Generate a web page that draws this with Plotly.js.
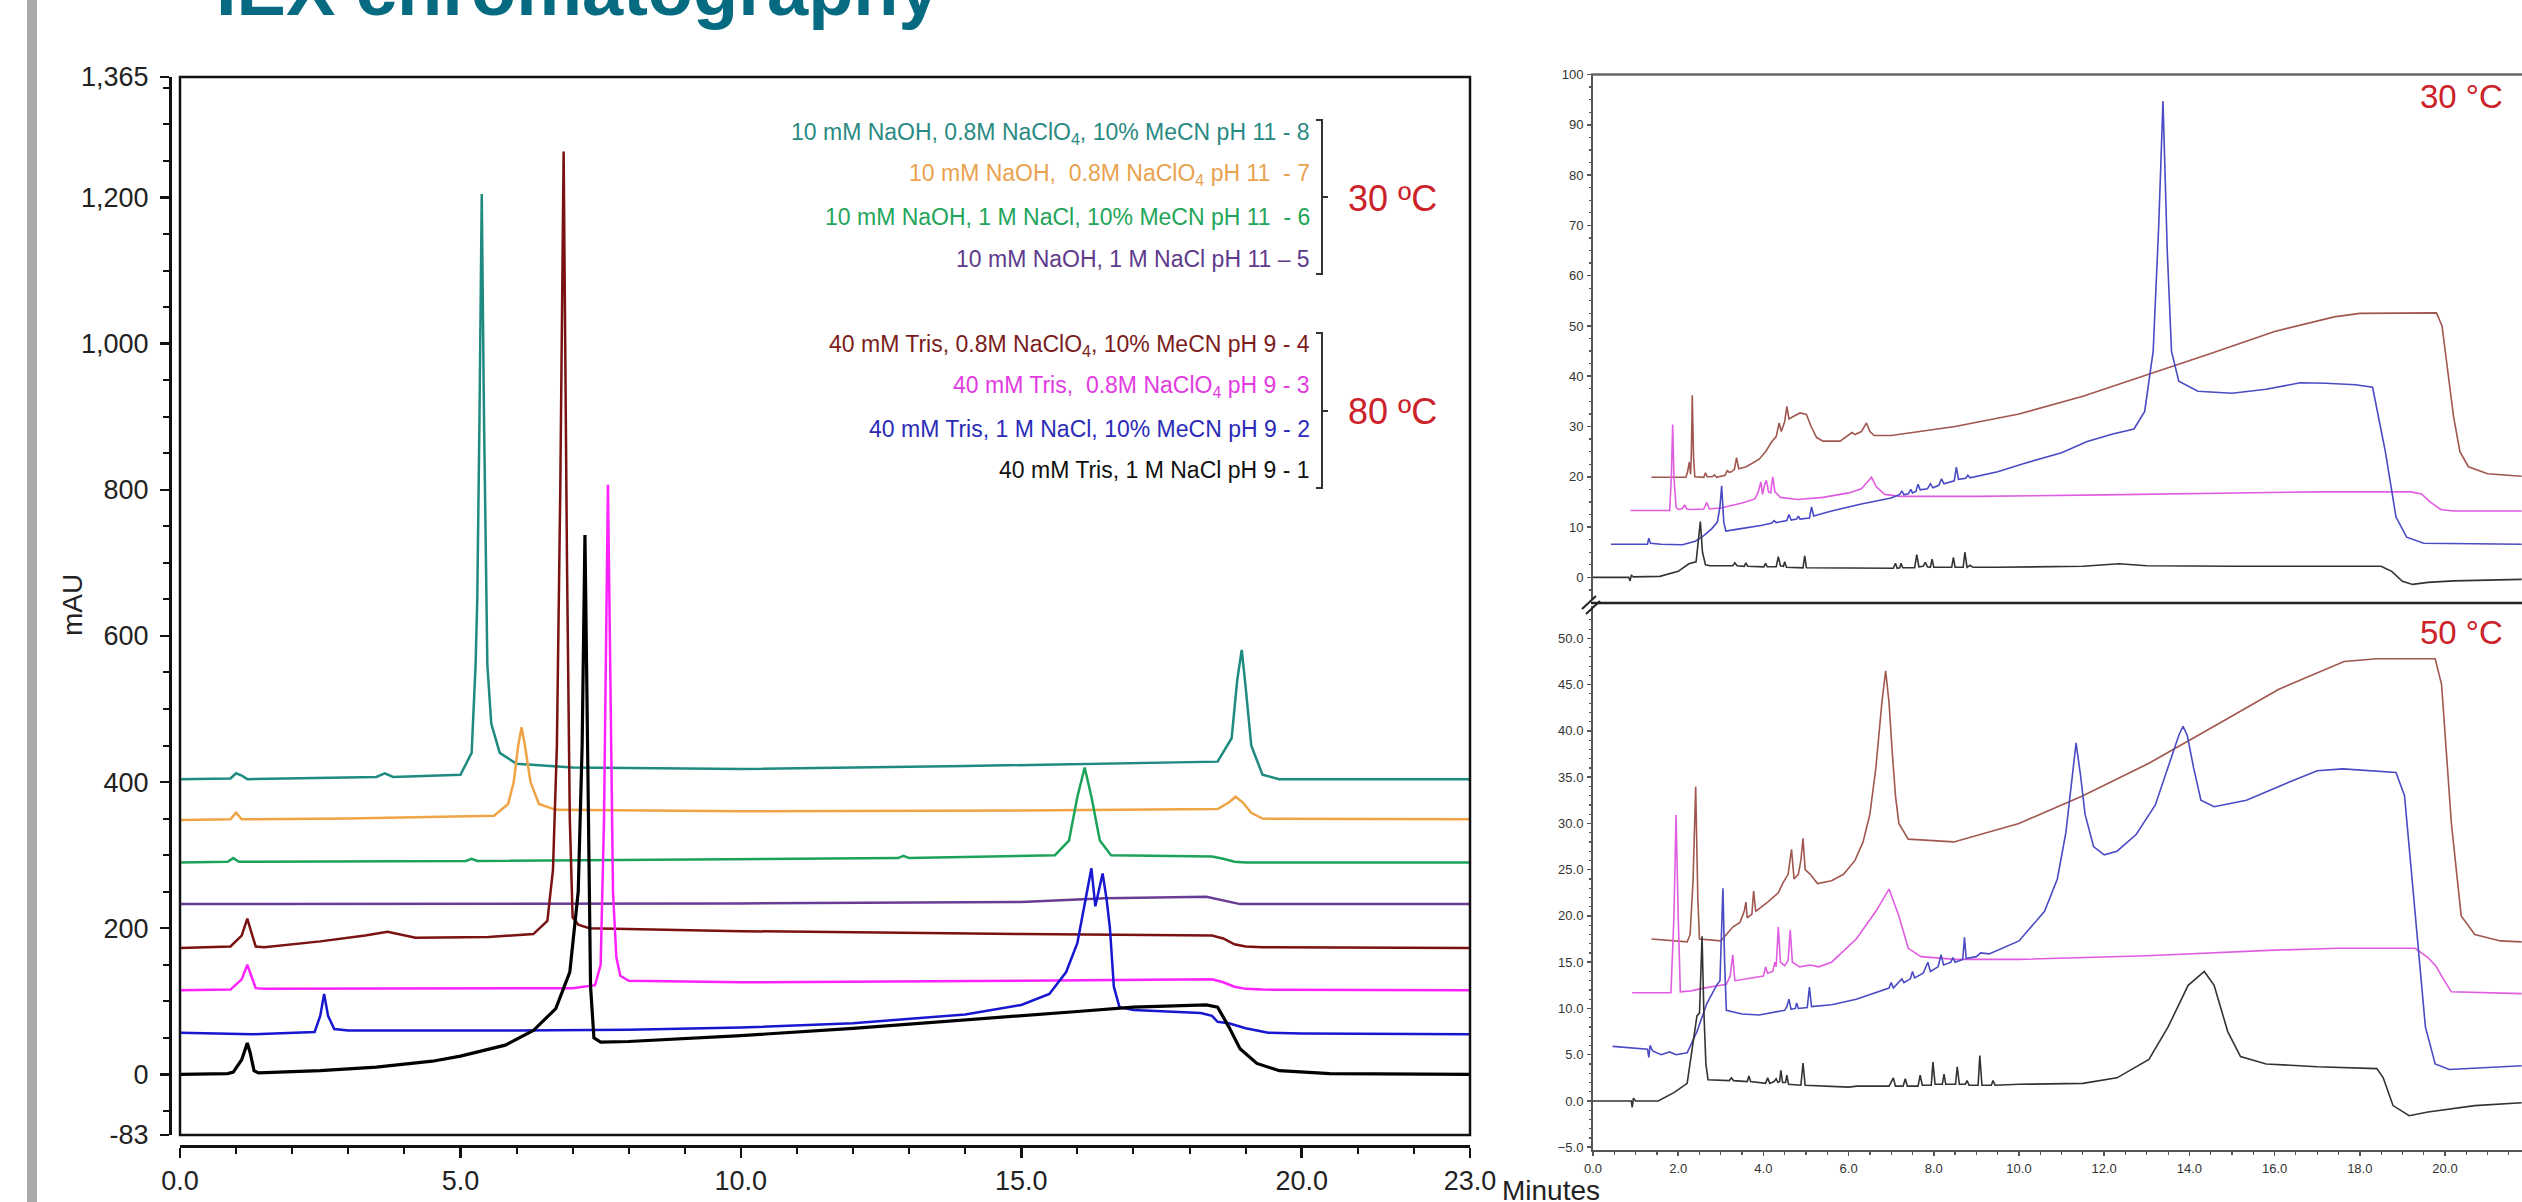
<!DOCTYPE html>
<html><head><meta charset="utf-8">
<script src="https://cdn.plot.ly/plotly-3.0.1.min.js"></script>
<style>html,body{margin:0;padding:0;background:#fff;overflow:hidden}#chart{width:2522px;height:1202px}</style>
</head><body><div id="chart"></div>
<script>
// ---------------- DATA ----------------
// Left chart: time (min) vs mAU, one array of [t, mAU] points per run
const RUN8 = [[0,404],[0.9,405],[1.0,412],[1.1,409],[1.2,404],[3.5,407],[3.65,412],[3.8,407],[5.0,410],[5.2,440],[5.27,560],[5.3,650],[5.34,900],[5.38,1205],[5.42,900],[5.48,560],[5.55,480],[5.7,440],[6.0,425],[7,420],[10,418],[14,422],[18.5,428],[18.75,460],[18.85,540],[18.93,581],[19.0,530],[19.1,450],[19.3,410],[19.6,404],[23,404]];
const RUN7 = [[0,348],[0.9,349],[1.0,358],[1.1,349],[3,350],[5.6,354],[5.85,370],[5.95,400],[6.03,450],[6.09,475],[6.15,450],[6.25,400],[6.4,370],[6.7,362],[10,360],[15,361],[18.5,363],[18.7,372],[18.82,380],[18.95,372],[19.1,358],[19.3,350],[23,349]];
const RUN6 = [[0,290],[0.85,291],[0.95,296],[1.05,291],[5.1,292],[5.2,295],[5.3,292],[12.8,296],[12.9,299],[13.0,296],[15.6,300],[15.85,320],[16.0,380],[16.13,420],[16.25,380],[16.4,320],[16.6,300],[18.4,298],[18.6,295],[18.8,291],[19.0,290],[23,290]];
const RUN5 = [[0,233],[10,234],[15,236],[16.5,241],[18.3,243],[18.6,238],[18.9,233],[23,233]];
const RUN4 = [[0,173],[0.9,175],[1.1,190],[1.2,213],[1.27,195],[1.35,175],[1.5,174],[2.5,182],[3.3,190],[3.7,195],[4.2,187],[5.5,188],[6.3,192],[6.55,210],[6.65,280],[6.72,450],[6.78,800],[6.84,1263],[6.9,700],[6.95,350],[7.0,215],[7.1,205],[7.3,200],[10,196],[15,192],[18.4,190],[18.6,186],[18.8,178],[19.0,175],[19.3,174],[23,173]];
const RUN3 = [[0,115],[0.9,116],[1.1,130],[1.2,150],[1.27,135],[1.35,118],[1.5,117],[7.0,118],[7.4,122],[7.5,150],[7.56,350],[7.63,807],[7.68,500],[7.72,250],[7.78,160],[7.85,135],[8.0,128],[10,126],[15,128],[18.4,130],[18.6,126],[18.8,120],[19.0,117],[19.3,116],[23,115]];
const RUN2 = [[0,57],[1.0,56],[1.3,55],[2.4,58],[2.5,80],[2.57,110],[2.64,80],[2.75,62],[3.0,60],[6,60],[8,61],[10,64],[12,70],[14,82],[15,95],[15.5,110],[15.8,140],[16.0,180],[16.15,240],[16.25,282],[16.32,230],[16.38,250],[16.45,275],[16.52,240],[16.58,200],[16.65,120],[16.75,92],[17.0,88],[18.2,84],[18.4,80],[18.5,72],[18.7,70],[19.0,63],[19.4,57],[20,56],[23,55]];
const RUN1 = [[0,0],[0.85,1],[0.95,3],[1.1,20],[1.2,43],[1.25,30],[1.32,5],[1.4,2],[2.5,5],[3.5,10],[4.5,18],[5.0,25],[5.8,40],[6.3,60],[6.7,90],[6.95,140],[7.1,250],[7.17,450],[7.22,738],[7.27,450],[7.32,120],[7.38,50],[7.5,44],[8,45],[10,53],[12,63],[14,74],[16,86],[17,92],[18.3,95],[18.5,92],[18.7,65],[18.9,35],[19.2,15],[19.6,5],[20.5,1],[23,0]];

const LEFT_RUNS   = [RUN8, RUN7, RUN6, RUN5, RUN4, RUN3, RUN2, RUN1];
const LEFT_COLORS = ['#1f8a80','#efa445','#1ca35a','#6a3b95','#7a1212','#ff22ff','#1717d0','#000000'];
const LEFT_WIDTHS = [2.5,2.5,2.5,2.5,2.5,2.5,2.5,3.2];

const LEGEND_TEXT = [
  '10 mM NaOH, 0.8M NaClO<sub>4</sub>, 10% MeCN pH 11 - 8',
  '10 mM NaOH,  0.8M NaClO<sub>4</sub> pH 11  - 7',
  '10 mM NaOH, 1 M NaCl, 10% MeCN pH 11  - 6',
  '10 mM NaOH, 1 M NaCl pH 11 \u2013 5',
  '40 mM Tris, 0.8M NaClO<sub>4</sub>, 10% MeCN pH 9 - 4',
  '40 mM Tris,  0.8M NaClO<sub>4</sub> pH 9 - 3',
  '40 mM Tris, 1 M NaCl, 10% MeCN pH 9 - 2',
  '40 mM Tris, 1 M NaCl pH 9 - 1'];
const LEGEND_COLORS = ['#2a8a82','#e9a24f','#22a55a','#5e3a8c','#7b1c1c','#e23be2','#2b2bb8','#111111'];
const GROUP_LABELS = ['30 \u00baC','80 \u00baC'];

const LY_TICKS  = [-83,0,200,400,600,800,1000,1200,1365];
const LY_LABELS = ['-83','0','200','400','600','800','1,000','1,200','1,365'];
const LX_TICKS  = [0,5,10,15,20,23];
const LX_LABELS = ['0.0','5.0','10.0','15.0','20.0','23.0'];

// Right chart, 30 °C panel
const T_BLACK = [[0,0],[0.84,0],[0.87,-0.7],[0.9,0.4],[0.95,0.1],[1.57,0.2],[2.0,1.2],[2.25,2.7],[2.42,3.1],[2.47,7],[2.52,11.1],[2.57,5],[2.64,2.5],[2.75,2.3],[3.28,2.3],[3.33,2.9],[3.38,2.3],[3.55,2.2],[3.59,2.9],[3.63,2.2],[4.01,2.1],[4.05,2.8],[4.09,2.1],[4.3,2.1],[4.35,4.1],[4.4,2.3],[4.47,2.2],[4.5,3.1],[4.54,2.0],[4.93,1.9],[4.97,4.3],[5.01,1.9],[6.0,1.8],[7.05,1.8],[7.1,2.8],[7.14,1.8],[7.2,1.9],[7.23,2.8],[7.27,1.9],[7.55,1.9],[7.6,4.5],[7.65,2.1],[7.75,2.2],[7.8,3.0],[7.85,2.1],[7.92,2.0],[7.96,3.6],[8.0,2.0],[8.42,2.0],[8.46,4.0],[8.5,2.0],[8.69,2.0],[8.73,5.0],[8.78,2.0],[8.85,2.4],[8.92,2.0],[9.5,2.0],[11.5,2.2],[12.35,2.7],[13.0,2.3],[15.0,2.2],[18.5,2.2],[18.75,1.2],[19.0,-0.8],[19.24,-1.4],[19.6,-1.0],[20.2,-0.7],[21.8,-0.4]];
const T_BLUE = [[0.42,6.6],[1.28,6.6],[1.31,7.8],[1.35,6.8],[1.6,6.6],[2.1,6.5],[2.4,7.2],[2.6,8.3],[2.79,9.7],[2.92,11],[2.98,14],[3.02,18.2],[3.07,11],[3.12,9.2],[3.4,9.6],[3.94,10.3],[4.2,10.8],[4.25,11.3],[4.3,10.9],[4.55,11.3],[4.6,12.5],[4.65,11.4],[4.78,11.6],[4.82,12.2],[4.86,11.6],[5.08,11.8],[5.13,14],[5.18,12.2],[5.6,13.2],[6.3,14.6],[7.0,15.8],[7.2,16.5],[7.25,17.2],[7.3,16.4],[7.4,16.6],[7.46,17.5],[7.5,16.8],[7.58,17.1],[7.63,18.5],[7.68,17.4],[7.85,17.6],[7.92,18.6],[7.98,17.8],[8.12,18.3],[8.18,19.6],[8.24,18.6],[8.48,19.2],[8.53,21.9],[8.58,19.5],[8.75,19.7],[8.8,20.3],[8.85,19.8],[9.5,21.0],[10.1,22.6],[11.0,24.8],[11.6,27.0],[12.2,28.5],[12.7,29.5],[12.95,33],[13.15,45],[13.28,70],[13.38,94.7],[13.48,65],[13.58,45],[13.75,39],[14.2,37],[15.0,36.6],[15.8,37.4],[16.6,38.7],[17.2,38.6],[17.9,38.3],[18.3,37.8],[18.6,25],[18.85,12],[19.1,8],[19.5,6.8],[21.8,6.6]];
const T_MAGENTA = [[0.88,13.3],[1.8,13.3],[1.84,20],[1.87,30.4],[1.9,20],[1.95,14],[2.0,13.5],[2.1,13.7],[2.15,14.4],[2.2,13.6],[2.3,13.5],[2.6,13.6],[2.67,14.9],[2.73,13.6],[3.0,13.8],[3.5,14.8],[3.8,15.6],[3.88,17],[3.94,19.0],[3.98,16.5],[4.03,18.5],[4.07,19.3],[4.12,17],[4.17,16.8],[4.22,20],[4.27,17],[4.4,15.9],[4.8,15.5],[5.4,15.9],[6.0,16.8],[6.3,17.6],[6.45,19],[6.54,19.9],[6.65,18],[6.85,16.5],[7.2,16.1],[9.0,16.1],[12.0,16.4],[15.0,16.8],[17.0,17.0],[19.2,17.0],[19.45,16.6],[19.65,15.0],[19.9,13.5],[20.2,13.2],[21.8,13.2]];
const T_BROWN = [[1.37,19.9],[2.18,19.9],[2.22,21],[2.26,22.9],[2.29,20.5],[2.31,25],[2.33,36.2],[2.36,24],[2.39,20],[2.6,19.9],[2.64,20.8],[2.68,20],[2.8,20.0],[2.85,20.4],[2.9,19.9],[3.1,20.3],[3.15,21.2],[3.2,20.9],[3.25,21],[3.32,21.5],[3.37,23.8],[3.42,21.6],[3.6,22.0],[3.9,23.5],[4.05,25],[4.2,27],[4.3,28],[4.37,30.7],[4.42,29],[4.5,31],[4.55,34],[4.6,31.5],[4.7,32],[4.86,32.7],[5.01,32.4],[5.12,30],[5.25,27.8],[5.4,27.1],[5.8,27.1],[6.0,28.3],[6.08,28.8],[6.15,28.4],[6.3,29],[6.42,30.7],[6.5,29],[6.6,28.2],[7.0,28.2],[8.5,30],[10.0,32.5],[11.5,36],[13.0,40.2],[14.5,44.5],[16.0,48.9],[17.4,51.8],[18.0,52.5],[19.8,52.6],[19.93,50],[20.05,42],[20.2,32],[20.35,25],[20.55,22],[21.0,20.6],[21.8,20.1]];

// Right chart, 50 °C panel
const B_BLACK = [[0,0],[0.9,0],[0.92,-0.7],[0.95,0.3],[1.0,0],[1.53,0],[1.9,0.9],[2.21,1.9],[2.34,6],[2.44,9.2],[2.5,9.5],[2.56,17.8],[2.6,10],[2.65,4],[2.7,2.3],[3.2,2.2],[3.25,2.5],[3.3,2.2],[3.62,2.1],[3.66,2.7],[3.7,2.1],[4.05,1.9],[4.1,2.5],[4.15,1.9],[4.25,2.1],[4.3,2.4],[4.34,2.0],[4.38,2.1],[4.41,3.3],[4.45,2.0],[4.52,2.0],[4.55,2.8],[4.59,1.8],[4.88,1.7],[4.93,4.1],[4.98,1.7],[6.0,1.5],[6.2,1.6],[6.95,1.6],[7.05,2.5],[7.1,1.6],[7.28,1.6],[7.33,2.4],[7.38,1.6],[7.63,1.6],[7.68,2.8],[7.73,1.7],[7.94,1.7],[7.98,4.2],[8.03,1.8],[8.2,1.8],[8.24,2.9],[8.28,1.8],[8.51,1.8],[8.55,3.7],[8.6,1.8],[8.74,1.8],[8.78,2.2],[8.83,1.7],[9.04,1.7],[9.08,4.9],[9.13,1.7],[9.35,1.7],[9.39,2.2],[9.44,1.7],[10.0,1.8],[11.5,1.9],[12.3,2.5],[13.05,4.5],[13.5,8],[13.97,12.5],[14.35,14],[14.58,12.5],[14.9,7.5],[15.2,4.8],[15.8,4.0],[17.0,3.7],[18.4,3.5],[18.55,2.5],[18.78,-0.5],[19.16,-1.6],[19.6,-1.2],[20.7,-0.5],[21.8,-0.2]];
const B_BLUE = [[0.46,5.9],[1.28,5.6],[1.31,4.7],[1.34,6.0],[1.4,5.4],[1.6,5.0],[1.8,5.3],[1.95,5.0],[2.21,5.2],[2.44,7.5],[2.67,10.5],[2.9,12.5],[2.98,13],[3.01,18],[3.05,23],[3.09,15],[3.13,9.8],[3.5,9.4],[3.9,9.3],[4.5,9.8],[4.55,10.2],[4.6,11],[4.65,9.9],[4.75,10],[4.78,10.6],[4.82,10],[5.03,10.1],[5.08,12.3],[5.13,10.2],[5.6,10.4],[6.18,11],[6.95,12.2],[7.0,12.8],[7.05,12.2],[7.25,13.2],[7.3,12.8],[7.45,13.2],[7.5,14],[7.55,13.3],[7.75,13.8],[7.86,15],[7.92,14],[8.1,14.5],[8.17,15.8],[8.23,14.7],[8.4,15],[8.45,15.5],[8.5,15],[8.68,15.3],[8.72,17.7],[8.76,15.4],[9.0,15.6],[9.1,16],[9.3,15.9],[10.0,17.3],[10.6,20.5],[10.9,24],[11.1,29],[11.25,35],[11.34,38.7],[11.45,35],[11.55,31],[11.75,27.5],[12.0,26.6],[12.3,27],[12.75,28.8],[13.2,32],[13.5,36],[13.75,39.5],[13.85,40.5],[13.95,39.5],[14.1,36],[14.27,32.5],[14.58,31.8],[15.34,32.5],[16.1,34],[17.0,35.7],[17.6,35.9],[18.85,35.5],[19.05,33],[19.3,20],[19.54,8],[19.77,4],[20.1,3.4],[21.8,3.8]];
const B_MAGENTA = [[0.92,11.7],[1.83,11.7],[1.9,20],[1.95,30.9],[2.0,20],[2.05,11.8],[2.3,11.9],[2.6,12.2],[3.13,12.6],[3.22,13.5],[3.28,15.8],[3.33,13],[4.0,13.5],[4.05,14.5],[4.1,13.8],[4.22,14],[4.27,15],[4.3,14.5],[4.35,18.8],[4.4,15],[4.5,14.6],[4.58,15.2],[4.63,18.5],[4.68,15],[4.85,14.5],[5.1,14.7],[5.3,14.5],[5.6,15.0],[6.18,17.5],[6.64,20.5],[6.95,22.9],[7.18,20],[7.4,16.5],[7.7,15.6],[8.5,15.3],[10.0,15.3],[13.0,15.7],[16.0,16.3],[17.5,16.5],[19.3,16.5],[19.6,15.5],[19.8,14.5],[19.92,13.5],[20.15,11.8],[21.8,11.6]];
const B_BROWN = [[1.37,17.5],[2.21,17.2],[2.28,18],[2.35,24],[2.41,34],[2.46,22],[2.5,17.5],[3.0,17.3],[3.13,18],[3.28,18.8],[3.45,19.3],[3.55,20.5],[3.59,21.5],[3.62,19.8],[3.73,20.2],[3.77,22.7],[3.82,20.5],[4.1,21.5],[4.35,22.5],[4.45,23.5],[4.58,24.5],[4.66,27.2],[4.72,24],[4.82,24.5],[4.88,26],[4.93,28.4],[4.98,25],[5.1,24.5],[5.27,23.5],[5.6,23.8],[5.88,24.5],[6.15,26],[6.34,28],[6.5,31],[6.64,36],[6.78,43],[6.87,46.5],[6.95,43],[7.02,38],[7.1,33],[7.18,30],[7.4,28.3],[8.47,28.0],[10.0,30],[11.5,33],[13.05,36.5],[14.58,40.5],[16.1,44.5],[17.63,47.5],[18.4,47.8],[19.77,47.8],[19.92,45],[20.15,30],[20.38,20],[20.7,18],[21.3,17.3],[21.8,17.2]];

const RIGHT_TOP    = [T_BROWN, T_MAGENTA, T_BLUE, T_BLACK];
const RIGHT_BOTTOM = [B_BROWN, B_MAGENTA, B_BLUE, B_BLACK];
const RIGHT_COLORS = ['#a0574f','#e05ce0','#4a4ac4','#333333'];
const PANEL_LABELS = ['30 \u00b0C','50 \u00b0C'];

// ---------------- BUILD ----------------
const W = 2522, H = 1202;
const px = v => v / W, py = v => 1 - v / H;
const FONT = 'Liberation Sans, Arial, Helvetica, sans-serif';
const RED = '#cc2229';

const traces = [];
LEFT_RUNS.forEach((run, i) => traces.push({
  type: 'scatter', mode: 'lines', xaxis: 'x', yaxis: 'y', hoverinfo: 'skip',
  x: run.map(p => p[0]), y: run.map(p => p[1]),
  line: {color: LEFT_COLORS[i], width: LEFT_WIDTHS[i]}
}));
RIGHT_TOP.forEach((run, i) => traces.push({
  type: 'scatter', mode: 'lines', xaxis: 'x2', yaxis: 'y2', hoverinfo: 'skip',
  x: run.map(p => p[0]), y: run.map(p => p[1]),
  line: {color: RIGHT_COLORS[i], width: 1.6}
}));
RIGHT_BOTTOM.forEach((run, i) => traces.push({
  type: 'scatter', mode: 'lines', xaxis: 'x3', yaxis: 'y3', hoverinfo: 'skip',
  x: run.map(p => p[0]), y: run.map(p => p[1]),
  line: {color: RIGHT_COLORS[i], width: 1.6}
}));

const rightMax = (W - 1593) / 42.6;
const smallTick = {size: 13, color: '#333', family: FONT};

const layout = {
  width: W, height: H, margin: {l: 0, r: 0, t: 0, b: 0},
  paper_bgcolor: '#fff', plot_bgcolor: 'rgba(0,0,0,0)', showlegend: false,
  font: {family: FONT, color: '#222'},
  xaxis: {
    domain: [px(180), px(1470)], range: [0, 23], anchor: 'free', position: py(1146),
    showline: true, linecolor: '#111', linewidth: 2.5, showgrid: false, zeroline: false,
    ticks: 'outside', ticklen: 10, tickwidth: 2.5, tickcolor: '#111',
    tickmode: 'array', tickvals: LX_TICKS, ticktext: LX_LABELS, ticklabelstandoff: 0,
    tickfont: {size: 27, color: '#222', family: FONT},
    minor: {tickmode: 'linear', tick0: 0, dtick: 1, ticks: 'outside', ticklen: 6, tickwidth: 2, tickcolor: '#111'}
  },
  yaxis: {
    domain: [py(1135), py(77)], range: [-83, 1365], anchor: 'free', position: px(170),
    showline: true, linecolor: '#111', linewidth: 2.5, showgrid: false, zeroline: false,
    ticks: 'outside', ticklen: 9, tickwidth: 2.5, tickcolor: '#111',
    tickmode: 'array', tickvals: LY_TICKS, ticktext: LY_LABELS, ticklabelstandoff: 6,
    tickfont: {size: 27, color: '#222', family: FONT},
    minor: {tickmode: 'linear', tick0: 0, dtick: 50, ticks: 'outside', ticklen: 6, tickwidth: 2, tickcolor: '#111'}
  },
  xaxis2: {
    domain: [px(1593), 1], range: [0, rightMax], anchor: 'y2',
    showline: false, showticklabels: false, ticks: '', showgrid: false, zeroline: false
  },
  yaxis2: {
    domain: [py(600), py(74.5)], range: [-4.5, 100], anchor: 'x2',
    showline: true, linecolor: '#555', linewidth: 2, showgrid: false, zeroline: false,
    ticks: 'outside', ticklen: 4, tickwidth: 1.5, tickcolor: '#555',
    tickmode: 'linear', tick0: 0, dtick: 10, tickfont: smallTick, ticklabelstandoff: 1,
    minor: {tickmode: 'linear', tick0: 0, dtick: 2.5, ticks: 'outside', ticklen: 2.5, tickwidth: 1.2, tickcolor: '#555'}
  },
  xaxis3: {
    domain: [px(1593), 1], range: [0, rightMax], anchor: 'y3',
    showline: true, linecolor: '#555', linewidth: 2, showgrid: false, zeroline: false,
    ticks: 'outside', ticklen: 4, tickwidth: 1.5, tickcolor: '#555',
    tickmode: 'linear', tick0: 0, dtick: 2, tickformat: '.1f', tickfont: smallTick, ticklabelstandoff: 1,
    minor: {tickmode: 'linear', tick0: 0, dtick: 0.5, ticks: 'outside', ticklen: 2.5, tickwidth: 1.2, tickcolor: '#555'}
  },
  yaxis3: {
    domain: [py(1150), py(606)], range: [-5.3, 53.5], anchor: 'x3',
    showline: true, linecolor: '#555', linewidth: 2, showgrid: false, zeroline: false,
    ticks: 'outside', ticklen: 4, tickwidth: 1.5, tickcolor: '#555',
    tickmode: 'linear', tick0: 0, dtick: 5, tickformat: '.1f', tickfont: smallTick, ticklabelstandoff: 1,
    minor: {tickmode: 'linear', tick0: 0, dtick: 1, ticks: 'outside', ticklen: 2.5, tickwidth: 1.2, tickcolor: '#555'}
  },
  shapes: [],
  annotations: []
};

const S = layout.shapes, A = layout.annotations;
// left grey bar
S.push({type: 'rect', xref: 'paper', yref: 'paper', x0: px(27), x1: px(37), y0: 0, y1: 1, fillcolor: '#a9a9a9', line: {width: 0}, layer: 'below'});
// left plot frame
S.push({type: 'rect', xref: 'paper', yref: 'paper', x0: px(180), x1: px(1470), y0: py(1135), y1: py(77), line: {color: '#111', width: 2.5}});
// right panel top border and break line
S.push({type: 'line', xref: 'paper', yref: 'paper', x0: px(1591), x1: 1, y0: py(74.5), y1: py(74.5), line: {color: '#666', width: 2.5}});
S.push({type: 'line', xref: 'paper', yref: 'paper', x0: px(1591), x1: 1, y0: py(603), y1: py(603), line: {color: '#222', width: 2.5}});
// axis break marks
S.push({type: 'line', xref: 'paper', yref: 'paper', x0: px(1582), x1: px(1596), y0: py(609), y1: py(596), line: {color: '#222', width: 2}});
S.push({type: 'line', xref: 'paper', yref: 'paper', x0: px(1586), x1: px(1600), y0: py(614), y1: py(601), line: {color: '#222', width: 2}});
// brackets
function bracket(top, bot, mid) {
  const xa = px(1316), xb = px(1322), xc = px(1328);
  return {type: 'path', xref: 'paper', yref: 'paper', line: {color: '#333', width: 2},
    path: `M ${xa} ${py(top)} L ${xb} ${py(top)} L ${xb} ${py(bot)} L ${xa} ${py(bot)} M ${xb} ${py(mid)} L ${xc} ${py(mid)}`};
}
S.push(bracket(120, 274, 197));
S.push(bracket(333, 488, 411));

// title
A.push({xref: 'paper', yref: 'paper', x: px(214), y: py(33), xanchor: 'left', yanchor: 'bottom', showarrow: false,
  text: '<b>IEX chromatography</b>', font: {size: 74, color: '#066b80', family: FONT}});
// y axis label
A.push({xref: 'paper', yref: 'paper', x: px(72), y: py(605), xanchor: 'center', yanchor: 'middle', showarrow: false,
  text: 'mAU', textangle: -90, font: {size: 28, color: '#222', family: FONT}});
// legend lines
const LEG_Y = [133, 175, 217, 259, 346, 387, 429, 470];
LEGEND_TEXT.forEach((t, i) => A.push({xref: 'paper', yref: 'paper', x: px(1312), y: py(LEG_Y[i]), xanchor: 'right', yanchor: 'middle',
  showarrow: false, text: t, font: {size: 23, color: LEGEND_COLORS[i], family: FONT}}));
A.push({xref: 'paper', yref: 'paper', x: px(1346), y: py(199), xanchor: 'left', yanchor: 'middle', showarrow: false,
  text: GROUP_LABELS[0], font: {size: 36, color: RED, family: FONT}});
A.push({xref: 'paper', yref: 'paper', x: px(1346), y: py(412), xanchor: 'left', yanchor: 'middle', showarrow: false,
  text: GROUP_LABELS[1], font: {size: 36, color: RED, family: FONT}});
// right panel labels
A.push({xref: 'paper', yref: 'paper', x: px(2418), y: py(96), xanchor: 'left', yanchor: 'middle', showarrow: false,
  text: PANEL_LABELS[0], font: {size: 33, color: RED, family: FONT}});
A.push({xref: 'paper', yref: 'paper', x: px(2418), y: py(632), xanchor: 'left', yanchor: 'middle', showarrow: false,
  text: PANEL_LABELS[1], font: {size: 33, color: RED, family: FONT}});
// Minutes
A.push({xref: 'paper', yref: 'paper', x: px(1500), y: py(1208), xanchor: 'left', yanchor: 'bottom', showarrow: false,
  text: 'Minutes', font: {size: 28, color: '#222', family: FONT}});

Plotly.newPlot('chart', traces, layout, {staticPlot: true, displayModeBar: false});
</script></body></html>
